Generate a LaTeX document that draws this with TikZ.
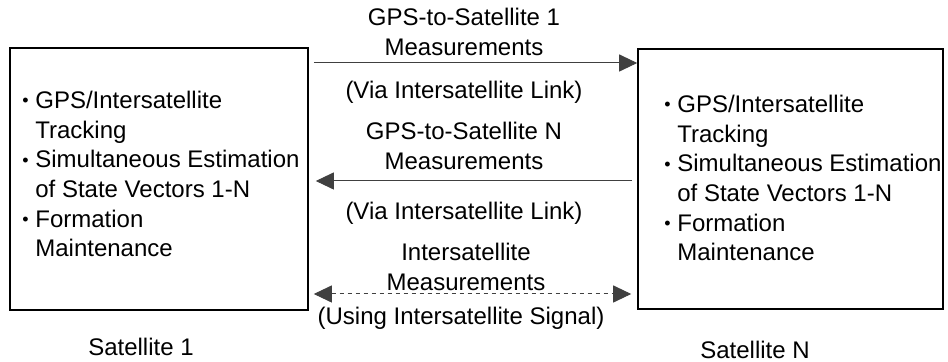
\documentclass[tikz,border=0pt]{standalone}
\usepackage{fontspec}
\usepackage{graphicx}
\setmainfont{Liberation Sans}
\usetikzlibrary{arrows.meta}
\tikzset{
  satbox/.style={draw,line width=0.8pt,inner sep=0pt},
  txt/.style={inner sep=0pt,font=\fontsize{12pt}{14.8pt}\selectfont},
  lbl/.style={txt,align=center,font=\fontsize{12pt}{15pt}\selectfont},
  tip/.tip={Triangle[length=9pt,width=8.5pt]},
  link/.style={draw=black!75,line width=0.5pt,-tip},
}
\newcommand{\bul}{\raisebox{0.08em}{\scalebox{0.75}{\textbullet}}\ }
\newcommand{\hang}{\phantom{\bul}}
\begin{document}
\begin{tikzpicture}[x=0.5pt,y=-0.5pt]
\useasboundingbox (0,0) rectangle (948,362);
%\draw[step=50,gray,very thin] (0,0) grid (948,362);
\node[satbox,minimum width=149pt,minimum height=131pt] (sat1) at (159,179) {};
\node[satbox,minimum width=152.5pt,minimum height=130pt] (satN) at (790.5,179) {};

\node[txt,align=left,anchor=north west] (list1) at (22,91)
  {\bul GPS/Intersatellite\\\hang Tracking\\\bul Simultaneous Estimation\\\hang of State Vectors 1-N\\\bul Formation\\\hang Maintenance};
\node[txt,align=left,anchor=north west] (listN) at (664,95)
  {\bul GPS/Intersatellite\\\hang Tracking\\\bul Simultaneous Estimation\\\hang of State Vectors 1-N\\\bul Formation\\\hang Maintenance};

\node[txt] (name1) at (141,347) {Satellite 1};
\node[txt] (nameN) at (755,350) {Satellite N};

\node[lbl] (meas1) at (464,32) {GPS-to-Satellite 1\\Measurements};
\node[lbl] (via1) at (464,92) {(Via Intersatellite Link)};
\node[lbl] (measN) at (464,146) {GPS-to-Satellite N\\Measurements};
\node[lbl] (viaN) at (464,213) {(Via Intersatellite Link)};
\node[lbl] (measI) at (466,267) {Intersatellite\\Measurements};
\node[lbl] (sig) at (461,318) {(Using Intersatellite Signal)};

\draw[link] ([xshift=2.5pt]sat1.east |- 0,63) -- (satN.west |- 0,63);
\draw[link] ([xshift=-2.5pt]satN.west |- 0,181) -- ([xshift=3.5pt]sat1.east |- 0,181);
\draw[link,tip-tip,dash pattern=on 2.2pt off 1.8pt]
  ([xshift=2.5pt]sat1.east |- 0,294) -- ([xshift=-3pt]satN.west |- 0,294);
\end{tikzpicture}
\end{document}
